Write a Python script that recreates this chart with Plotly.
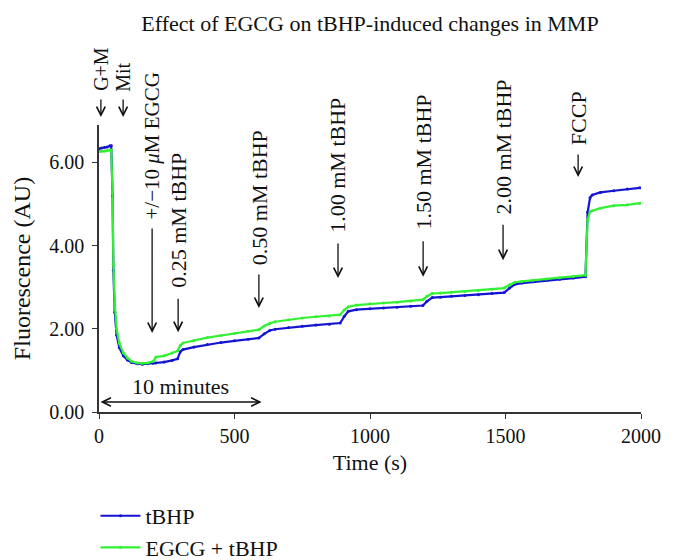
import plotly.graph_objects as go

# ---------------- data ----------------
time_s = [0, 10, 20, 30, 40, 45, 50, 53, 58, 65, 75, 90, 105, 120, 140, 160, 180, 200,
          210, 240, 270, 290, 300, 310, 350, 400, 450, 500, 550, 590, 610, 630, 650,
          700, 750, 800, 850, 890, 905, 920, 950, 1000, 1050, 1100, 1150, 1195, 1210,
          1230, 1260, 1300, 1350, 1400, 1450, 1495, 1515, 1535, 1560, 1600, 1650, 1700,
          1750, 1795, 1803, 1812, 1820, 1850, 1900, 1950, 1996]

tbhp = [6.33, 6.35, 6.36, 6.37, 6.40, 6.40, 5.20, 3.40, 2.40, 1.85, 1.55, 1.35, 1.25, 1.19,
        1.16, 1.15, 1.16, 1.17, 1.18, 1.20, 1.24, 1.28, 1.45, 1.50, 1.56, 1.62, 1.67, 1.71,
        1.75, 1.78, 1.88, 1.96, 1.99, 2.03, 2.06, 2.09, 2.11, 2.14, 2.30, 2.42, 2.46, 2.48,
        2.50, 2.52, 2.54, 2.56, 2.66, 2.75, 2.76, 2.78, 2.80, 2.82, 2.85, 2.87, 2.98, 3.07,
        3.10, 3.13, 3.16, 3.19, 3.22, 3.25, 4.80, 5.15, 5.22, 5.28, 5.32, 5.36, 5.39]

egcg_tbhp = [6.26, 6.27, 6.27, 6.28, 6.30, 6.30, 5.30, 3.55, 2.60, 2.00, 1.65, 1.42, 1.30,
             1.22, 1.18, 1.17, 1.18, 1.22, 1.32, 1.35, 1.42, 1.47, 1.60, 1.66, 1.72, 1.79,
             1.84, 1.89, 1.94, 1.98, 2.07, 2.13, 2.17, 2.22, 2.26, 2.29, 2.31, 2.34, 2.45,
             2.53, 2.57, 2.60, 2.62, 2.64, 2.67, 2.70, 2.78, 2.85, 2.86, 2.88, 2.90, 2.92,
             2.95, 2.98, 3.06, 3.12, 3.14, 3.17, 3.20, 3.23, 3.26, 3.29, 4.62, 4.82, 4.84,
             4.90, 4.96, 4.98, 5.02]

series_names = ["tBHP", "EGCG + tBHP"]

event_labels = ["G+M", "Mit", "+/\u221210 <i>\u03bc</i>M EGCG", "0.25 mM tBHP", "0.50 mM tBHP",
                "1.00 mM tBHP", "1.50 mM tBHP", "2.00 mM tBHP", "FCCP"]
event_times = [7, 89, 196, 292, 590, 882, 1196, 1491, 1768]

x_ticks = [0, 500, 1000, 1500, 2000]
y_ticks = [0, 2, 4, 6]
y_tick_text = ["0.00", "2.00", "4.00", "6.00"]

# ---------------- layout / style ----------------
FONT = "Liberation Serif"
BLUE = "#1414d2"
GREEN = "#32f032"
Y_MAX = 6.9
# arrow tip level, text bottom level (in y units; converted to paper), arrow length (px)
arrow_tip = [7.09, 7.09, 1.90, 1.92, 2.50, 3.22, 3.25, 3.65, 5.65]
arrow_len = [19, 19, 106, 35, 35, 36, 37, 37, 24]
text_bottom = [7.67, 7.64, 4.57, 2.93, 3.49, 4.25, 4.33, 4.69, 6.37]
label_size = [20, 20, 21, 22, 22, 22, 22, 22, 22]

fig = go.Figure()
fig.add_trace(go.Scatter(x=time_s, y=tbhp, name=series_names[0], mode="lines+markers",
                         line=dict(color=BLUE, width=2.2), marker=dict(size=3, color=BLUE)))
fig.add_trace(go.Scatter(x=time_s, y=egcg_tbhp, name=series_names[1], mode="lines+markers",
                         line=dict(color=GREEN, width=2.2), marker=dict(size=3, color=GREEN)))

annotations = []
for t, lab, tip, L, tb, fs in zip(event_times, event_labels, arrow_tip, arrow_len,
                                  text_bottom, label_size):
    annotations.append(dict(x=t, y=tip / Y_MAX, xref="x", yref="paper", text="", showarrow=True,
                            ax=0, ay=-L, arrowhead=5, arrowsize=1.3, arrowwidth=1.3,
                            arrowcolor="#111111"))
    annotations.append(dict(x=t, y=tb / Y_MAX, xref="x", yref="paper", text=lab, showarrow=False,
                            textangle=-90, xanchor="center", yanchor="bottom",
                            font=dict(family=FONT, size=fs, color="#111111")))

# 10 minutes double arrow
annotations.append(dict(x=600, y=0.24, xref="x", yref="y", ax=0, ay=0.24, axref="x", ayref="y",
                        text="", showarrow=True, arrowhead=5, arrowside="end+start",
                        arrowsize=1.3, arrowwidth=1.3, arrowcolor="#111111"))
annotations.append(dict(x=300, y=0.62, xref="x", yref="y", text="10 minutes", showarrow=False,
                        font=dict(family=FONT, size=22, color="#111111")))

fig.update_layout(
    width=674, height=560,
    margin=dict(l=99, r=33, t=125, b=148, autoexpand=False),
    paper_bgcolor="white", plot_bgcolor="white",
    font=dict(family=FONT, size=20, color="#111111"),
    title=dict(text="Effect of EGCG on tBHP-induced changes in MMP", x=0.5, xref="paper",
               xanchor="center", y=1 - 23 / 560, yanchor="middle",
               font=dict(family=FONT, size=22, color="#111111")),
    xaxis=dict(range=[0, 2000], tickvals=x_ticks, ticks="outside", ticklen=5, tickwidth=1.3,
               tickcolor="#333333", showline=True, linecolor="#333333", linewidth=1.6,
               showgrid=False, zeroline=False,
               title=dict(text="Time (s)", standoff=9, font=dict(family=FONT, size=22))),
    yaxis=dict(range=[0, Y_MAX], tickvals=y_ticks, ticktext=y_tick_text, ticks="outside",
               ticklen=5, tickwidth=1.3, tickcolor="#333333", showline=True,
               linecolor="#333333", linewidth=1.6, showgrid=False, zeroline=False,
               ticklabelstandoff=4,
               title=dict(text="Fluorescence (AU)", standoff=12, font=dict(family=FONT, size=24))),
    legend=dict(x=-0.0065, xanchor="left", y=-0.289, yanchor="top", orientation="v",
                font=dict(family=FONT, size=22), itemwidth=40, bgcolor="rgba(0,0,0,0)",
                tracegroupgap=0),
    annotations=annotations,
    showlegend=True,
)

fig.write_html("out.html", config={"displayModeBar": False},
               post_script="document.body.style.margin='0';")
